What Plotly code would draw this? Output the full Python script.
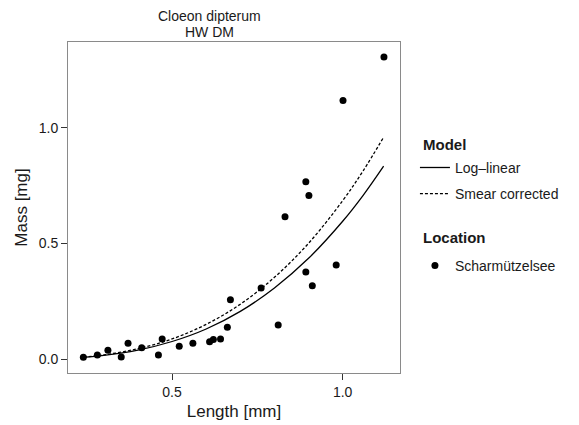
import plotly.graph_objects as go

# observed data (Cloeon dipterum, Scharmützelsee)
length_mm = [0.240, 0.281, 0.312, 0.351, 0.371, 0.411, 0.460, 0.471, 0.521,
             0.561, 0.610, 0.621, 0.642, 0.662, 0.671, 0.761, 0.811, 0.831,
             0.892, 0.901, 0.892, 0.911, 0.981, 1.001, 1.121]
mass_mg = [0.009, 0.019, 0.039, 0.010, 0.069, 0.050, 0.019, 0.088, 0.057,
           0.069, 0.076, 0.086, 0.088, 0.138, 0.257, 0.308, 0.148, 0.616,
           0.767, 0.707, 0.377, 0.318, 0.407, 1.117, 1.305]

# fitted model curves
curve_len = [0.24, 0.30, 0.40, 0.50, 0.60, 0.70, 0.80, 0.90, 1.00, 1.06, 1.12]
loglin_mass = [0.009, 0.017, 0.040, 0.077, 0.131, 0.207, 0.308, 0.436, 0.596, 0.708, 0.834]
smear_mass = [0.010, 0.019, 0.046, 0.088, 0.151, 0.238, 0.354, 0.501, 0.685, 0.814, 0.959]

x_ticks = [0.5, 1.0]
y_ticks = [0.0, 0.5, 1.0]

FONT = "Liberation Sans, Arial, sans-serif"
INK = "#1a1a1a"

fig = go.Figure()

fig.add_trace(go.Scatter(
    x=curve_len, y=loglin_mass, mode="lines", line_shape="spline",
    line=dict(color="black", width=1.3),
    name="Log\u2013linear", legend="legend", showlegend=True,
))
fig.add_trace(go.Scatter(
    x=curve_len, y=smear_mass, mode="lines", line_shape="spline",
    line=dict(color="black", width=1.3, dash="3px,2px"),
    name="Smear corrected", legend="legend2", showlegend=True,
))
fig.add_trace(go.Scatter(
    x=length_mm, y=mass_mg, mode="markers",
    marker=dict(color="black", size=7),
    name="Scharmützelsee", legend="legend3", showlegend=True,
))

# two-line title, slightly left of the panel centre as in the original
for txt, ypix in [("Cloeon dipterum", 16), ("HW DM", 32)]:
    fig.add_annotation(
        text=txt, x=(209 - 68) / 332, y=(373 - ypix) / 331,
        xref="paper", yref="paper", xanchor="center", yanchor="middle",
        showarrow=False, font=dict(size=14, color=INK, family=FONT),
    )

# legend group headings
for txt, ypix in [("<b>Model</b>", 144), ("<b>Location</b>", 238)]:
    fig.add_annotation(
        text=txt, x=(421 - 68) / 332, y=(373 - ypix) / 331,
        xref="paper", yref="paper", xanchor="left", yanchor="middle",
        showarrow=False, font=dict(size=15, color=INK, family=FONT),
    )

axis_common = dict(
    showgrid=False, zeroline=False, showline=True, mirror=True,
    linecolor="#8a8a8a", linewidth=1, ticks="outside", ticklen=6,
    tickwidth=1, tickcolor="#333333", automargin=False,
    tickfont=dict(size=14, color=INK, family=FONT),
)
fig.update_xaxes(range=[0.195, 1.168], tickvals=x_ticks, ticktext=["0.5", "1.0"],
                 title=dict(text="Length [mm]", font=dict(size=17, color=INK, family=FONT),
                            standoff=6),
                 **axis_common)
fig.update_yaxes(range=[-0.059, 1.370], tickvals=y_ticks, ticktext=["0.0", "0.5", "1.0"],
                 title=dict(text="Mass [mg]", font=dict(size=17, color=INK, family=FONT),
                            standoff=6),
                 **axis_common)

leg_common = dict(
    x=1.045, xanchor="left", yanchor="top", itemwidth=30,
    font=dict(size=14, color=INK, family=FONT),
    bgcolor="rgba(0,0,0,0)",
)

fig.update_layout(
    width=579, height=425,
    # page body adds an 8px offset, so margins are shifted to compensate
    margin=dict(l=60, r=187, t=34, b=60, autoexpand=False),
    plot_bgcolor="white", paper_bgcolor="white",
    font=dict(family=FONT, color=INK),
    showlegend=True,
    legend=dict(y=0.668, **leg_common),
    legend2=dict(y=0.589, **leg_common),
    legend3=dict(y=0.372, **leg_common),
)

fig.write_html("out.html")
